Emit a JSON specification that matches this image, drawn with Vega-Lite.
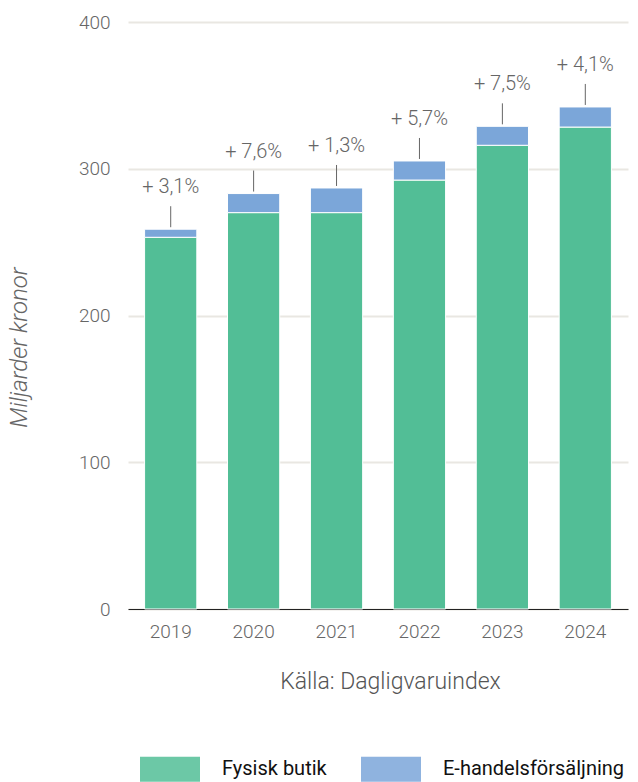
{
  "$schema": "https://vega.github.io/schema/vega-lite/v6.json",
  "autosize": {"type": "none"},
  "padding": {"left": 128, "top": 22, "right": 10, "bottom": 173},
  "width": 500,
  "height": 587,
  "background": "white",
  "config": {
    "view": {"stroke": null},
    "font": "Roboto"
  },
  "datasets": {
    "sales": [
      {"year": "2019", "typ": "Fysisk butik", "ord": 1, "value": 253.3},
      {"year": "2019", "typ": "E-handelsförsäljning", "ord": 2, "value": 5.5},
      {"year": "2020", "typ": "Fysisk butik", "ord": 1, "value": 270.1},
      {"year": "2020", "typ": "E-handelsförsäljning", "ord": 2, "value": 13.0},
      {"year": "2021", "typ": "Fysisk butik", "ord": 1, "value": 270.1},
      {"year": "2021", "typ": "E-handelsförsäljning", "ord": 2, "value": 16.8},
      {"year": "2022", "typ": "Fysisk butik", "ord": 1, "value": 292.3},
      {"year": "2022", "typ": "E-handelsförsäljning", "ord": 2, "value": 13.0},
      {"year": "2023", "typ": "Fysisk butik", "ord": 1, "value": 316.0},
      {"year": "2023", "typ": "E-handelsförsäljning", "ord": 2, "value": 12.9},
      {"year": "2024", "typ": "Fysisk butik", "ord": 1, "value": 328.4},
      {"year": "2024", "typ": "E-handelsförsäljning", "ord": 2, "value": 13.7}
    ],
    "totals": [
      {"year": "2019", "total": 258.8, "label": "+ 3,1%"},
      {"year": "2020", "total": 283.1, "label": "+ 7,6%"},
      {"year": "2021", "total": 286.9, "label": "+ 1,3%"},
      {"year": "2022", "total": 305.3, "label": "+ 5,7%"},
      {"year": "2023", "total": 328.9, "label": "+ 7,5%"},
      {"year": "2024", "total": 342.1, "label": "+ 4,1%"}
    ]
  },
  "encoding": {
    "x": {
      "field": "year",
      "type": "nominal",
      "scale": {"paddingInner": 0.37, "paddingOuter": 0.2},
      "axis": {
        "title": "Källa: Dagligvaruindex",
        "titleFont": "Roboto",
        "titleFontWeight": 300,
        "titleFontSize": 23,
        "titleColor": "#555555",
        "titleY": 72,
        "titleX": 262,
        "titleBaseline": "middle",
        "labelAngle": 0,
        "labelFontSize": 19,
        "labelFontWeight": 300,
        "labelColor": "#666666",
        "labelPadding": 13,
        "ticks": false,
        "domainColor": "#222222",
        "domainWidth": 1
      }
    }
  },
  "layer": [
    {
      "data": {"name": "sales"},
      "mark": {"type": "bar", "stroke": "white", "strokeWidth": 1},
      "encoding": {
        "y": {
          "field": "value",
          "type": "quantitative",
          "stack": "zero",
          "scale": {"domain": [0, 400]},
          "axis": {
            "values": [0, 100, 200, 300, 400],
            "title": "Miljarder kronor",
            "titleFont": "Roboto",
            "titleFontStyle": "italic",
            "titleFontWeight": 300,
            "titleFontSize": 24,
            "titleColor": "#666666",
            "titleAngle": -90,
            "titleX": -109,
            "titleY": 325,
            "titleAlign": "center",
            "titleBaseline": "middle",
            "labelFontSize": 19,
            "labelFontWeight": 300,
            "labelColor": "#666666",
            "labelPadding": 18,
            "ticks": false,
            "domain": false,
            "grid": true,
            "gridColor": "#e9e7e2",
            "gridWidth": 2
          }
        },
        "color": {
          "field": "typ",
          "type": "nominal",
          "scale": {
            "domain": ["Fysisk butik", "E-handelsförsäljning"],
            "range": ["#52be96", "#7ba6d9"]
          },
          "legend": {
            "title": null,
            "orient": "none",
            "direction": "horizontal",
            "legendX": 12,
            "legendY": 717,
            "symbolType": "M-1,-0.417H1V0.417H-1Z",
            "symbolSize": 3600,
            "symbolStrokeWidth": 0,
            "symbolOpacity": 0.85,
            "labelFont": "Roboto",
            "labelFontSize": 20,
            "labelColor": "#111111",
            "labelOffset": 22,
            "columnPadding": 34,
            "labelLimit": 300
          }
        },
        "order": {"field": "ord", "type": "quantitative"}
      }
    },
    {
      "data": {"name": "totals"},
      "mark": {"type": "rule", "color": "#666666", "strokeWidth": 1, "yOffset": -2, "y2Offset": -23},
      "encoding": {
        "y": {"field": "total", "type": "quantitative"},
        "y2": {"field": "total"}
      }
    },
    {
      "data": {"name": "totals"},
      "mark": {"type": "text", "dy": -42, "baseline": "middle", "fontSize": 20, "fontWeight": 300, "color": "#666666"},
      "encoding": {
        "y": {"field": "total", "type": "quantitative"},
        "text": {"field": "label"}
      }
    }
  ]
}
